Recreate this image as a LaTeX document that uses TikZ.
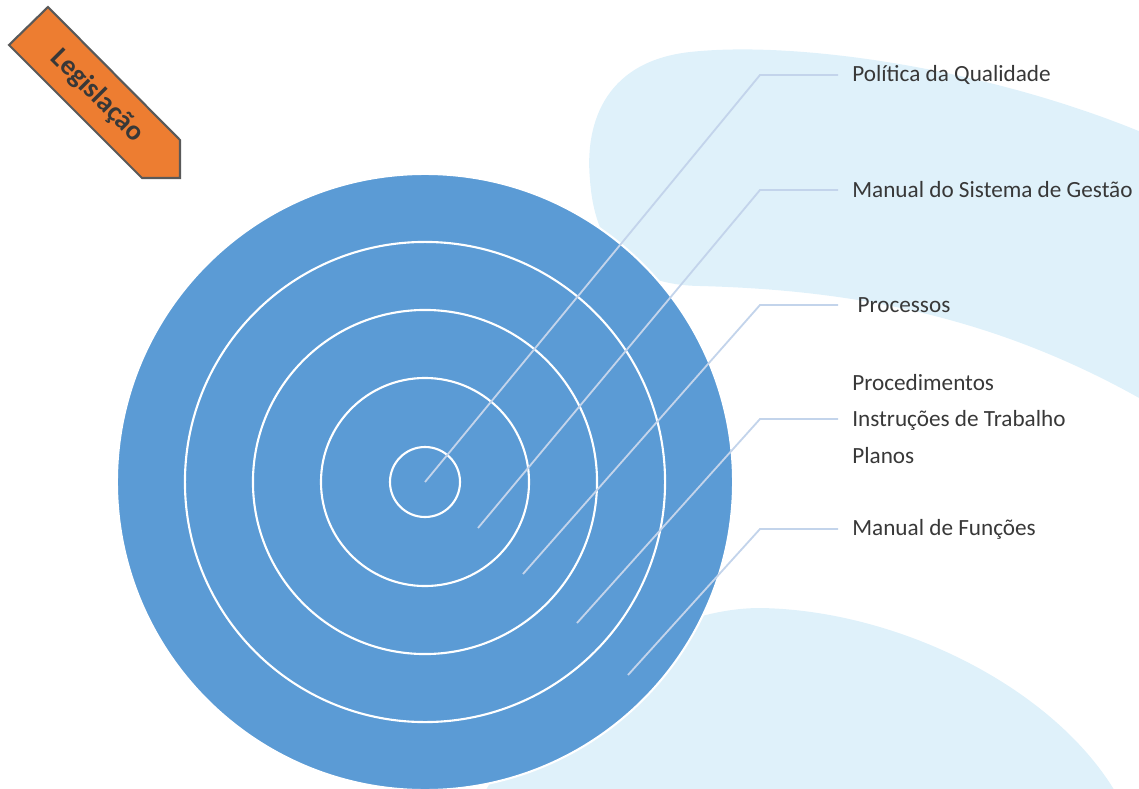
\documentclass[tikz,border=0pt]{standalone}
\usepackage{fontspec}
\setmainfont{Carlito}
\usepackage{xcolor}
\usetikzlibrary{positioning,calc}

\definecolor{ringblue}{HTML}{5B9BD5}
\definecolor{paleblue}{HTML}{DFF1FA}
\definecolor{leadline}{HTML}{C3D4EB}
\definecolor{tagorange}{HTML}{ED7D31}
\definecolor{tagedge}{HTML}{595959}
\definecolor{labelgray}{HTML}{383838}

\begin{document}
\begin{tikzpicture}[
    x=0.025cm, y=-0.025cm,
    ring/.style={circle, draw=white, line width=1.5pt, inner sep=0pt},
    lbl/.style={anchor=west, inner xsep=10pt, inner ysep=0pt, align=left, text=labelgray, font=\fontsize{16.5}{26}\selectfont},
    lead/.style={draw=leadline, line width=1.3pt}
]
\useasboundingbox (0,0) rectangle (1139,789);
\clip (0,0) rectangle (1139,789);

% Background shapes
\fill[paleblue] (1160,140) .. controls (1000,70) and (800,40) .. (690,52)
    .. controls (600,62) and (585,130) .. (590,180)
    .. controls (595,250) and (630,285) .. (700,286)
    .. controls (850,290) and (1000,315) .. (1160,410) -- cycle;
\fill[paleblue] (480,800) .. controls (560,660) and (680,608) .. (760,608)
    .. controls (900,610) and (1060,690) .. (1120,800) -- cycle;

% Rings
\node[ring, fill=ringblue, minimum size=15.4cm] (outer) at (425,482) {};
\node[ring, minimum size=12cm] (ring4) at (outer.center) {};
\node[ring, minimum size=8.6cm] (ring3) at (outer.center) {};
\node[ring, minimum size=5.2cm] (ring2) at (outer.center) {};
\node[ring, minimum size=1.75cm] (core) at (outer.center) {};

% Legislacao tag
\filldraw[fill=tagorange, draw=tagedge, line width=1.5pt]
    (48,7) -- (9,45) -- (142,178) -- (180,178) -- (180,140) -- cycle;
\node[rotate=-45, text=labelgray, font=\fontsize{20}{24}\selectfont\bfseries] (legis) at (97,96) {Legislação};

% Labels
\node[lbl] (politica) at (838,75) {Política da Qualidade};
\node[lbl] (manual) at (838,190) {Manual do Sistema de Gestão};
\node[lbl] (processos) at (838,305) {\ Processos};
\node[lbl] (procedimentos) at (838,419) {Procedimentos\\Instruções de Trabalho\\Planos};
\node[lbl] (funcoes) at (838,529) {Manual de Funções};

% Leader lines
\coordinate (elbow) at (760,0);
\coordinate (p1) at (425,482);
\coordinate (p2) at (478,528);
\coordinate (p3) at (523,574);
\coordinate (p4) at (577,623);
\coordinate (p5) at (628,675);
\draw[lead] (p1) -- (elbow |- politica.west) -- (politica.west);
\draw[lead] (p2) -- (elbow |- manual.west) -- (manual.west);
\draw[lead] (p3) -- (elbow |- processos.west) -- (processos.west);
\draw[lead] (p4) -- (elbow |- procedimentos.west) -- (procedimentos.west);
\draw[lead] (p5) -- (elbow |- funcoes.west) -- (funcoes.west);

\end{tikzpicture}
\end{document}
